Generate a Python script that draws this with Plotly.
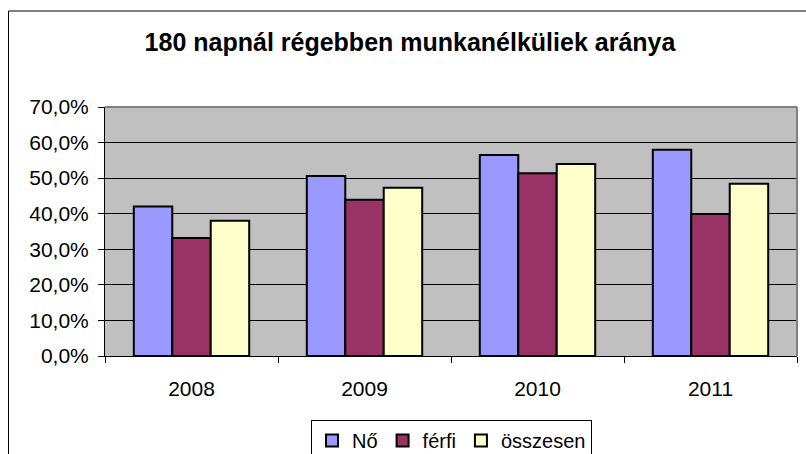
import plotly.graph_objects as go

years = ["2008", "2009", "2010", "2011"]
no_vals = [0.420, 0.506, 0.565, 0.580]
ferfi_vals = [0.332, 0.439, 0.514, 0.399]
osszesen_vals = [0.380, 0.473, 0.540, 0.484]
series_names = ["Nő", "férfi", "összesen"]
series_colors = ["#9999FF", "#993366", "#FFFFCC"]
title_text = "180 napnál régebben munkanélküliek aránya"

W, H = 806, 454
L, R, T, B = 105, 9, 107, 98
pw, ph = W - L - R, H - T - B

def px_x(p):
    return (p - L) / pw

def px_y(p):
    return (H - B - p) / ph

FONT = "Liberation Sans, Arial, sans-serif"

fig = go.Figure()
for name, vals, col in zip(series_names, [no_vals, ferfi_vals, osszesen_vals], series_colors):
    fig.add_trace(go.Bar(
        x=years, y=vals, name=name,
        marker=dict(color=col, line=dict(color="black", width=2)),
    ))

fig.update_layout(
    width=W, height=H,
    margin=dict(l=L, r=R, t=T, b=B, autoexpand=False),
    paper_bgcolor="white",
    plot_bgcolor="#C0C0C0",
    separators=", ",
    barmode="group",
    bargap=0.333,
    bargroupgap=0,
    font=dict(family=FONT, size=21, color="black"),
    title=dict(
        text="<b>" + title_text + "</b>",
        font=dict(family=FONT, size=25, color="black"),
        x=410 / W, xref="container", xanchor="center",
        y=1 - 42 / H, yref="container", yanchor="middle",
    ),
    showlegend=True,
    legend=dict(
        orientation="h",
        x=px_x(451.5), xanchor="center",
        y=px_y(420), yanchor="top",
        bordercolor="black", borderwidth=1,
        bgcolor="white",
        font=dict(family=FONT, size=20, color="black"),
        itemwidth=30,
        tracegroupgap=0,
    ),
    xaxis=dict(
        type="category",
        showline=True, linecolor="black", linewidth=1,
        ticks="outside", tickson="boundaries", ticklen=6, tickcolor="black",
        ticklabelstandoff=14,
        showgrid=False,
        automargin=False,
        tickfont=dict(family=FONT, size=21, color="black"),
    ),
    yaxis=dict(
        range=[0, 0.7],
        tickvals=[0, 0.1, 0.2, 0.3, 0.4, 0.5, 0.6, 0.7],
        tickformat=".1%",
        showline=True, linecolor="black", linewidth=1,
        ticks="outside", ticklen=6, tickcolor="black",
        ticklabelstandoff=5,
        showgrid=True, gridcolor="black", gridwidth=1,
        zeroline=False,
        automargin=False,
        tickfont=dict(family=FONT, size=21, color="black"),
    ),
    shapes=[
        dict(type="line", xref="paper", yref="paper", x0=0, x1=1, y0=1, y1=1,
             line=dict(color="#808080", width=2), layer="above"),
        dict(type="line", xref="paper", yref="paper", x0=1, x1=1, y0=0, y1=1,
             line=dict(color="#808080", width=2), layer="above"),
        dict(type="rect", xref="paper", yref="paper",
             x0=px_x(8.5), x1=px_x(812), y0=px_y(460), y1=px_y(11),
             line=dict(color="black", width=1), fillcolor="rgba(0,0,0,0)", layer="above"),
    ],
)

fig.write_html(
    "out.html",
    config={"displayModeBar": False},
    post_script="document.body.style.margin='0';document.body.style.overflow='hidden';",
)
